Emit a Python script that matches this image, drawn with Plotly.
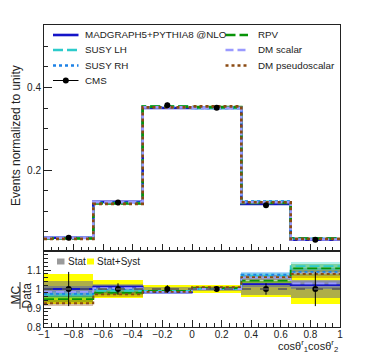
import plotly.graph_objects as go

# binning of cos(theta1) * cos(theta2)
edges = [-1, -2/3, -1/3, 0, 1/3, 2/3, 1]
centers = [-5/6, -1/2, -1/6, 1/6, 1/2, 5/6]

# CMS data, normalized to unity
data_vals = [0.0360, 0.1215, 0.3570, 0.3505, 0.1150, 0.0310]
data_err = [0.0030, 0.0035, 0.0060, 0.0050, 0.0035, 0.0028]

# model predictions (main panel)
mg_vals = [0.0360, 0.1230, 0.3500, 0.3505, 0.1180, 0.0316]
lh_vals = [0.0349, 0.1203, 0.3534, 0.3505, 0.1231, 0.0347]
rh_vals = [0.0351, 0.1215, 0.3516, 0.3505, 0.1236, 0.0338]
rpv_vals = [0.0341, 0.1191, 0.3534, 0.3523, 0.1201, 0.0344]
dms_vals = [0.0355, 0.1221, 0.3516, 0.3505, 0.1219, 0.0319]
dmp_vals = [0.0333, 0.1181, 0.3516, 0.3540, 0.1221, 0.0334]

# MC / Data ratios
mg_ratio = [1.000, 1.012, 0.982, 1.000, 1.026, 1.020]
lh_ratio = [0.970, 0.990, 0.990, 1.000, 1.070, 1.120]
rh_ratio = [0.975, 1.000, 0.985, 1.000, 1.075, 1.090]
rpv_ratio = [0.947, 0.980, 0.990, 1.005, 1.044, 1.109]
dms_ratio = [0.985, 1.005, 0.985, 1.000, 1.060, 1.030]
dmp_ratio = [0.925, 0.972, 0.985, 1.010, 1.062, 1.079]
model_band = [0.015, 0.012, 0.006, 0.006, 0.014, 0.020]

# data uncertainties in the ratio panel
data_ratio = [1, 1, 1, 1, 1, 1]
data_ratio_err = [0.090, 0.030, 0.020, 0.015, 0.030, 0.090]
stat_err = [0.040, 0.020, 0.010, 0.010, 0.030, 0.045]
syst_err = [0.080, 0.045, 0.020, 0.020, 0.040, 0.080]

# (name, main values, ratio, colour, dash, band colour)
models = [
    ("MADGRAPH5+PYTHIA8 @NLO", mg_vals, mg_ratio, "#1414c8", "solid", "rgba(40,60,220,0.35)"),
    ("SUSY LH", lh_vals, lh_ratio, "#2ccbcb", "10px,4px", "rgba(40,210,200,0.35)"),
    ("SUSY RH", rh_vals, rh_ratio, "#1e82e6", "dot", "rgba(30,140,240,0.35)"),
    ("RPV", rpv_vals, rpv_ratio, "#089408", "10px,4px", "rgba(20,160,20,0.35)"),
    ("DM scalar", dms_vals, dms_ratio, "#9a9aff", "8px,4px", "rgba(150,150,255,0.35)"),
    ("DM pseudoscalar", dmp_vals, dmp_ratio, "#8b4a12", "dot", "rgba(140,80,20,0.35)"),
]

FONT = "Liberation Sans, Arial, sans-serif"
INK = "#222222"
fig = go.Figure()

# ratio panel: data uncertainty bands
fig.add_trace(go.Bar(
    x=centers, y=[2 * e for e in syst_err], base=[1 - e for e in syst_err],
    width=1/3, marker=dict(color="#ffff00", line=dict(width=0)),
    name="Stat+Syst", showlegend=False, xaxis="x", yaxis="y"))
fig.add_trace(go.Bar(
    x=centers, y=[2 * e for e in stat_err], base=[1 - e for e in stat_err],
    width=1/3, marker=dict(color="rgba(120,120,120,0.6)", line=dict(width=0)),
    name="Stat", showlegend=False, xaxis="x", yaxis="y"))

# ratio panel: model bands and lines
for name, vals, ratio, color, dash, band in models:
    fig.add_trace(go.Bar(
        x=centers, y=[2 * b for b in model_band],
        base=[r - b for r, b in zip(ratio, model_band)],
        width=1/3, marker=dict(color=band, line=dict(width=0)),
        showlegend=False, xaxis="x", yaxis="y"))
for name, vals, ratio, color, dash, band in models:
    fig.add_trace(go.Scatter(
        x=edges, y=ratio + [ratio[-1]], mode="lines", line_shape="hv",
        line=dict(color=color, width=1.8, dash=dash),
        showlegend=False, xaxis="x", yaxis="y"))

fig.add_trace(go.Scatter(
    x=centers, y=data_ratio, mode="markers",
    marker=dict(color="black", size=6),
    error_y=dict(type="data", array=data_ratio_err, color="black", thickness=1, width=0),
    showlegend=False, xaxis="x", yaxis="y"))

# main panel
for name, vals, ratio, color, dash, band in models:
    fig.add_trace(go.Scatter(
        x=edges, y=vals + [vals[-1]], mode="lines", line_shape="hv",
        line=dict(color=color, width=2.6, dash=dash),
        name=name, showlegend=False, xaxis="x2", yaxis="y2"))

fig.add_trace(go.Scatter(
    x=centers, y=data_vals, mode="markers",
    marker=dict(color="black", size=6),
    error_y=dict(type="data", array=data_err, color="black", thickness=1, width=0),
    name="CMS", showlegend=False, xaxis="x2", yaxis="y2"))

split = 76 / 302
axis_common = dict(showline=True, linecolor=INK, linewidth=1, mirror=True,
                   ticks="inside", tickcolor=INK, showgrid=False, zeroline=False,
                   tickfont=dict(family=FONT, size=10, color=INK))
minor_common = dict(ticklen=4, ticks="inside", tickcolor=INK)


# window pixel -> paper coordinate (plot area spans x 44..340, y 25..327 in the window)
def px_x(p):
    return (p - 44) / 296


def px_y(p):
    return (327 - p) / 302


shapes = [
    dict(type="line", xref="x", yref="y", x0=-1, x1=1, y0=1, y1=1,
         line=dict(color="#555555", width=1.3, dash="dash"), layer="above"),
]
annotations = []

# two-column key in the main panel (ROOT TLegend style)
rows_y = [35, 50, 65.5, 80.5]
key = [(m[0], m[3], m[4], 0, i) for i, m in enumerate(models[:3])]
key += [(m[0], m[3], m[4], 1, i) for i, m in enumerate(models[3:])]
cols = [(53, 78.5, 83), (225.5, 248, 256)]
for name, color, dash, c, r in key:
    x0, x1, xt = cols[c]
    shapes.append(dict(type="line", xref="paper", yref="paper",
                       x0=px_x(x0), x1=px_x(x1), y0=px_y(rows_y[r]), y1=px_y(rows_y[r]),
                       line=dict(color=color, width=2.6, dash=dash)))
    annotations.append(dict(text=name, xref="paper", yref="paper", x=px_x(xt),
                            y=px_y(rows_y[r]), xanchor="left", yanchor="middle",
                            showarrow=False, font=dict(family=FONT, size=9.8, color=INK)))
# CMS entry
shapes.append(dict(type="line", xref="paper", yref="paper", x0=px_x(53), x1=px_x(78.5),
                   y0=px_y(rows_y[3]), y1=px_y(rows_y[3]), line=dict(color="black", width=1)))
shapes.append(dict(type="circle", xref="paper", yref="paper", x0=px_x(62.8), x1=px_x(68.8),
                   y0=px_y(rows_y[3] + 3), y1=px_y(rows_y[3] - 3), fillcolor="black",
                   line=dict(width=0)))
annotations.append(dict(text="CMS", xref="paper", yref="paper", x=px_x(83), y=px_y(rows_y[3]),
                        xanchor="left", yanchor="middle", showarrow=False,
                        font=dict(family=FONT, size=9.8, color=INK)))

# ratio-panel key
shapes.append(dict(type="rect", xref="paper", yref="paper", x0=px_x(57), x1=px_x(64.5),
                   y0=px_y(264.5), y1=px_y(258.5), fillcolor="#9a9a9a", line=dict(width=0)))
shapes.append(dict(type="rect", xref="paper", yref="paper", x0=px_x(87), x1=px_x(94),
                   y0=px_y(264.5), y1=px_y(258.5), fillcolor="#ffff00", line=dict(width=0)))
# fraction bar of the MC/Data title
shapes.append(dict(type="line", xref="paper", yref="paper", x0=px_x(20), x1=px_x(20),
                   y0=px_y(282), y1=px_y(309), line=dict(color=INK, width=1)))
annotations += [
    dict(text="Stat", xref="paper", yref="paper", x=px_x(65.5), y=px_y(261.5),
         xanchor="left", yanchor="middle", showarrow=False,
         font=dict(family=FONT, size=10, color=INK)),
    dict(text="Stat+Syst", xref="paper", yref="paper", x=px_x(94.5), y=px_y(261.5),
         xanchor="left", yanchor="middle", showarrow=False,
         font=dict(family=FONT, size=10, color=INK)),
    dict(text="Events normalized to unity", xref="paper", yref="paper",
         x=px_x(16), y=px_y(136), textangle=-90, showarrow=False,
         xanchor="center", yanchor="middle", font=dict(family=FONT, size=12, color=INK)),
    dict(text="MC", xref="paper", yref="paper",
         x=px_x(15), y=px_y(295.5), textangle=-90, showarrow=False,
         xanchor="center", yanchor="middle", font=dict(family=FONT, size=12, color=INK)),
    dict(text="Data", xref="paper", yref="paper",
         x=px_x(26), y=px_y(295.5), textangle=-90, showarrow=False,
         xanchor="center", yanchor="middle", font=dict(family=FONT, size=12, color=INK)),
    dict(text="cosθ<sup>r</sup><sub>1</sub>cosθ<sup>r</sup><sub>2</sub>",
         xref="paper", yref="paper", x=1, y=px_y(346), showarrow=False,
         xanchor="right", yanchor="middle", font=dict(family=FONT, size=11, color=INK)),
]

# the page body adds an 8 px margin, so the figure is 8 px smaller and the
# left/top margins 8 px tighter to keep the plot area where it belongs
fig.update_layout(
    width=362, height=352,
    margin=dict(l=36, r=30, t=17, b=33),
    paper_bgcolor="white", plot_bgcolor="white",
    barmode="overlay", bargap=0, showlegend=False,
    font=dict(family=FONT, color=INK),
    xaxis=dict(domain=[0, 1], range=[-1, 1], anchor="y", tick0=-1, dtick=0.2, ticklen=7,
               ticklabelstandoff=-2,
               minor=dict(dtick=0.05, **minor_common), **axis_common),
    yaxis=dict(domain=[0, split], range=[0.8, 1.2], anchor="x",
               tickvals=[0.8, 0.9, 1, 1.1], ticklen=7,
               minor=dict(dtick=0.02, **minor_common), **axis_common),
    xaxis2=dict(domain=[0, 1], range=[-1, 1], anchor="y2", matches="x", tick0=-1, dtick=0.2,
                ticklen=7, showticklabels=False,
                minor=dict(dtick=0.05, **minor_common), **axis_common),
    yaxis2=dict(domain=[split, 1], range=[0.004, 0.551], anchor="x2", tick0=0, dtick=0.2,
                ticklen=8, minor=dict(dtick=0.05, **minor_common), **axis_common),
    shapes=shapes,
    annotations=annotations,
)

fig.write_html("out.html")
